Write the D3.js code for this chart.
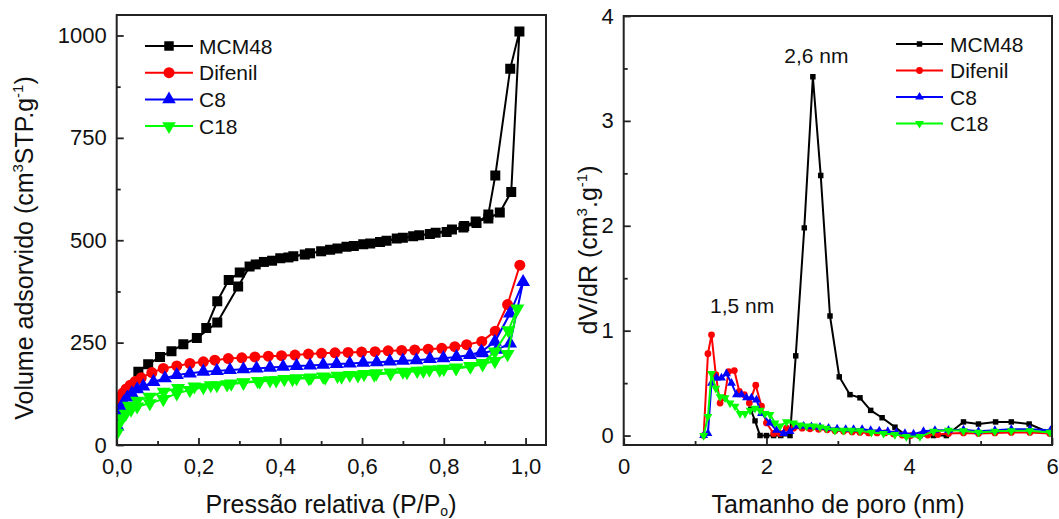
<!DOCTYPE html>
<html><head><meta charset="utf-8">
<script src="https://cdn.jsdelivr.net/npm/d3@7"></script>
<style>body{margin:0;background:#fff;} svg{display:block;font-family:"Liberation Sans",Arial,sans-serif;}</style>
</head><body><svg id="chart" width="1059" height="519"></svg>
<script>
// ---------- data ----------
const seriesNames = ["MCM48", "Difenil", "C8", "C18"];
const seriesColors = ["#000000", "#ff0000", "#0000ff", "#00ff00"];

// Isotherms: [P/P0, volume adsorbed] (adsorption then desorption)
const mcm48Iso = [[0.053,179],[0.077,197],[0.106,215],[0.134,229],[0.163,246],[0.196,261],[0.246,299],[0.297,387],[0.325,436],[0.36,447],[0.40,456],[0.432,461],[0.473,468],[0.522,477],[0.562,484],[0.603,490],[0.644,496],[0.685,504],[0.725,510],[0.766,515],[0.807,520],[0.848,531],[0.88,542],[0.909,563],[0.926,658],[0.9625,919],[0.985,1010],
  [0.965,618],[0.937,568],[0.909,553],[0.878,546],[0.85,535],[0.82,526],[0.78,518],[0.74,512],[0.70,506],[0.66,499],[0.62,492],[0.58,486],[0.54,480],[0.50,473],[0.46,465],[0.42,458],[0.38,450],[0.34,441],[0.301,421],[0.274,403],[0.246,351],[0.219,286]];
const difenilIso = [[0.001,92],[0.004,105],[0.009,117],[0.015,127],[0.023,137],[0.033,146],[0.045,155],[0.06,164],[0.086,177],[0.114,187],[0.147,193],[0.179,199],[0.212,203],[0.24,207],[0.273,211],[0.306,213],[0.338,215],[0.371,217],[0.403,218],[0.436,219.5],[0.469,222],[0.501,224],[0.534,225],[0.566,226],[0.599,227],[0.632,228],[0.664,230],[0.697,231],[0.729,232],[0.762,234],[0.795,236],[0.827,240],[0.856,245],[0.893,253],[0.926,278],[0.956,343],[0.986,439]];
const c8Iso = [[0.002,45],[0.005,70],[0.01,90],[0.017,104],[0.026,116],[0.037,126],[0.05,136],[0.065,143],[0.09,154],[0.118,163],[0.147,171],[0.179,175],[0.212,179],[0.245,181],[0.277,183],[0.31,185],[0.342,187],[0.375,189],[0.407,191],[0.44,193],[0.473,194],[0.505,196],[0.538,198],[0.57,199],[0.603,201],[0.636,202],[0.668,204],[0.70,206],[0.733,207],[0.766,210],[0.799,212],[0.831,215],[0.864,220],[0.892,228],[0.925,252],[0.962,321],[0.994,398],
  [0.962,248],[0.93,233],[0.895,224]];
const c18Iso = [[0.001,30],[0.005,50],[0.012,65],[0.022,76],[0.035,86],[0.05,94],[0.081,102],[0.114,112],[0.147,126],[0.179,134],[0.212,141],[0.245,146],[0.28,150],[0.31,153],[0.345,156],[0.375,158],[0.41,161],[0.44,163],[0.475,165],[0.505,167],[0.54,169],[0.57,171],[0.605,173],[0.635,175],[0.67,177],[0.70,179],[0.735,181],[0.765,184],[0.80,186],[0.83,189],[0.865,193],[0.895,200],[0.925,228],[0.958,280],[0.98,333],
  [0.956,222],[0.925,205],[0.895,197],[0.865,191],[0.83,187],[0.79,184],[0.75,181],[0.71,178],[0.67,175],[0.63,172],[0.59,170],[0.55,167],[0.51,165],[0.47,163],[0.43,161],[0.39,158],[0.35,155],[0.31,152],[0.27,148],[0.23,146],[0.19,143],[0.15,139],[0.115,130],[0.08,118],[0.05,108],[0.03,96]];

// Pore size distributions: [pore size nm, dV/dR]
const mcm48Pore = [[1.78,0.25],[1.84,0.14],[1.91,0.0],[2.0,0.0],[2.1,0.0],[2.2,0.0],[2.33,0.0],[2.41,0.76],[2.53,1.98],[2.65,3.42],[2.76,2.48],[2.89,1.14],[3.02,0.56],[3.17,0.39],[3.31,0.36],[3.46,0.24],[3.62,0.17],[3.80,0.08],[3.96,0.0],[4.15,0.0],[4.34,0.0],[4.52,0.0],[4.76,0.13],[4.97,0.11],[5.21,0.13],[5.43,0.13],[5.68,0.11],[5.99,0.02]];
const difenilPore = [[1.12,0.0],[1.18,0.78],[1.23,0.96],[1.29,0.58],[1.35,0.31],[1.41,0.36],[1.47,0.61],[1.55,0.62],[1.62,0.42],[1.69,0.39],[1.76,0.31],[1.85,0.48],[1.93,0.28],[2.0,0.12],[2.1,0.02],[2.19,0.02],[2.28,0.07],[2.38,0.07],[2.5,0.07],[2.61,0.065],[2.73,0.06],[2.85,0.055],[2.96,0.045],[3.08,0.04],[3.2,0.035],[3.31,0.03],[3.43,0.025],[3.55,0.025],[3.66,0.025],[3.78,0.015],[3.9,0.005],[4.02,0.0],[4.14,0.0],[4.26,0.005],[4.4,0.01],[4.55,0.02],[4.76,0.025],[4.97,0.02],[5.2,0.025],[5.43,0.03],[5.69,0.03],[5.97,0.02]];
const c8Pore = [[1.12,0.0],[1.18,0.02],[1.23,0.50],[1.30,0.55],[1.37,0.55],[1.44,0.59],[1.51,0.50],[1.58,0.39],[1.65,0.39],[1.72,0.36],[1.79,0.36],[1.86,0.34],[1.93,0.21],[2.05,0.12],[2.14,0.05],[2.24,0.02],[2.33,0.04],[2.42,0.09],[2.52,0.09],[2.63,0.085],[2.75,0.08],[2.87,0.07],[2.99,0.065],[3.11,0.06],[3.22,0.06],[3.34,0.06],[3.46,0.05],[3.58,0.045],[3.7,0.04],[3.82,0.03],[3.94,0.02],[4.06,0.015],[4.2,0.04],[4.36,0.05],[4.55,0.05],[4.76,0.055],[4.97,0.04],[5.2,0.05],[5.43,0.06],[5.69,0.06],[5.98,0.05]];
const c18Pore = [[1.12,0.0],[1.18,0.18],[1.23,0.59],[1.29,0.45],[1.35,0.37],[1.42,0.36],[1.49,0.31],[1.56,0.28],[1.63,0.21],[1.70,0.21],[1.77,0.24],[1.84,0.26],[1.91,0.24],[1.98,0.21],[2.05,0.20],[2.12,0.12],[2.19,0.09],[2.28,0.13],[2.38,0.12],[2.47,0.10],[2.56,0.09],[2.66,0.09],[2.75,0.08],[2.84,0.07],[2.96,0.05],[3.08,0.05],[3.19,0.05],[3.31,0.045],[3.47,0.03],[3.64,0.02],[3.80,0.01],[3.96,-0.01],[4.15,-0.01],[4.34,0.04],[4.55,0.05],[4.76,0.045],[4.97,0.03],[5.2,0.04],[5.43,0.045],[5.69,0.045],[5.97,0.03]];

const isoXTicks = [0, 0.2, 0.4, 0.6, 0.8, 1.0];
const isoXMinor = [0.1, 0.3, 0.5, 0.7, 0.9];
const isoYTicks = [0, 250, 500, 750, 1000];
const isoYMinor = [125, 375, 625, 875];
const poreXTicks = [0, 2, 4, 6];
const poreXMinor = [1, 3, 5];
const poreYTicks = [0, 1, 2, 3, 4];
const poreYMinor = [0.5, 1.5, 2.5, 3.5];

const isoSeries = [mcm48Iso, difenilIso, c8Iso, c18Iso];
const poreSeries = [mcm48Pore, difenilPore, c8Pore, c18Pore];

// ---------- drawing ----------
const svg = d3.select("#chart");
const symbolTypes = [d3.symbolSquare, d3.symbolCircle, d3.symbolTriangle, d3.symbolTriangle];
const symbolRot = [0, 0, 0, 180];

function comma(fmt) { return d => d3.format(fmt)(d).replace(".", ","); }

function panel(opts) {
  const x = d3.scaleLinear().domain(opts.xDomain).range(opts.xRange);
  const y = d3.scaleLinear().domain(opts.yDomain).range(opts.yRange);
  const g = svg.append("g");
  const clipId = "clip" + opts.id;
  svg.append("clipPath").attr("id", clipId).append("rect")
    .attr("x", opts.xRange[0]).attr("y", opts.yRange[1])
    .attr("width", opts.xRange[1] - opts.xRange[0]).attr("height", opts.yRange[0] - opts.yRange[1]);

  // axes
  const xa = g.append("g").attr("transform", `translate(0,${opts.yRange[0]})`)
    .call(d3.axisBottom(x).tickValues(opts.xTicks).tickSize(-7).tickPadding(13).tickFormat(opts.xFmt));
  const xm = g.append("g").attr("transform", `translate(0,${opts.yRange[0]})`)
    .call(d3.axisBottom(x).tickValues(opts.xMinor).tickSize(-4).tickFormat(""));
  const ya = g.append("g").attr("transform", `translate(${opts.xRange[0]},0)`)
    .call(d3.axisLeft(y).tickValues(opts.yTicks).tickSize(-7).tickPadding(10).tickFormat(opts.yFmt));
  const ym = g.append("g").attr("transform", `translate(${opts.xRange[0]},0)`)
    .call(d3.axisLeft(y).tickValues(opts.yMinor).tickSize(-4).tickFormat(""));
  [xa, xm, ya, ym].forEach(a => {
    a.select(".domain").remove();
    a.attr("font-size", null).attr("font-family", null);
    a.selectAll("line").attr("stroke", "#222").attr("stroke-width", 1.8);
    a.selectAll("text").attr("font-size", 22).attr("fill", "#111");
  });

  // series
  const plot = g.append("g").attr("clip-path", `url(#${clipId})`);
  opts.series.forEach((data, i) => {
    const line = d3.line().x(d => x(d[0])).y(d => y(d[1]));
    plot.append("path").datum(data).attr("d", line)
      .attr("fill", "none").attr("stroke", seriesColors[i]).attr("stroke-width", 2).attr("stroke-linejoin", "round");
    const sym = d3.symbol().type(symbolTypes[i]).size(opts.symSizes[i]);
    plot.selectAll(null).data(data).enter().append("path")
      .attr("d", sym)
      .attr("transform", d => `translate(${x(d[0])},${y(d[1])}) rotate(${symbolRot[i]})`)
      .attr("fill", seriesColors[i]);
  });

  // frame
  g.append("rect").attr("x", opts.xRange[0]).attr("y", opts.yRange[1])
    .attr("width", opts.xRange[1] - opts.xRange[0]).attr("height", opts.yRange[0] - opts.yRange[1])
    .attr("fill", "none").attr("stroke", "#222").attr("stroke-width", 2);

  // legend
  const lg = g.append("g");
  seriesNames.forEach((name, i) => {
    const yy = opts.legend.y + i * opts.legend.dy;
    lg.append("line").attr("x1", opts.legend.x1).attr("x2", opts.legend.x2).attr("y1", yy).attr("y2", yy)
      .attr("stroke", seriesColors[i]).attr("stroke-width", 2);
    lg.append("path").attr("d", d3.symbol().type(symbolTypes[i]).size(opts.legSym[i]))
      .attr("transform", `translate(${(opts.legend.x1 + opts.legend.x2) / 2},${yy}) rotate(${symbolRot[i]})`)
      .attr("fill", seriesColors[i]);
    lg.append("text").attr("x", opts.legend.tx).attr("y", yy).attr("dy", "0.36em")
      .attr("font-size", 21).attr("fill", "#111").text(name);
  });
  return { x, y, g };
}

const left = panel({
  id: "L", xDomain: [0, 1.05], xRange: [116.7, 546], yDomain: [0, 1050], yRange: [445, 15],
  xTicks: isoXTicks, xMinor: isoXMinor, yTicks: isoYTicks, yMinor: isoYMinor,
  xFmt: comma(".1f"), yFmt: d3.format("d"),
  series: isoSeries, symSizes: [100, 95, 85, 85], legSym: [90, 95, 80, 80],
  legend: { x1: 145, x2: 193, tx: 199, y: 46, dy: 26.7 }
});
const right = panel({
  id: "R", xDomain: [0, 6], xRange: [623.7, 1052], yDomain: [-0.09, 4], yRange: [445, 16],
  xTicks: poreXTicks, xMinor: poreXMinor, yTicks: poreYTicks, yMinor: poreYMinor,
  xFmt: d3.format("d"), yFmt: d3.format("d"),
  series: poreSeries, symSizes: [30, 36, 34, 34], legSym: [30, 36, 34, 34],
  legend: { x1: 896, x2: 943, tx: 950, y: 44, dy: 26.5 }
});

// axis titles
svg.append("text").attr("x", 331).attr("y", 513).attr("text-anchor", "middle").attr("font-size", 25).attr("fill", "#111")
  .html('Pressão relativa (P/P<tspan font-size="14" dy="3">o</tspan><tspan dy="-3">)</tspan>');
svg.append("text").attr("transform", "translate(33,248) rotate(-90)").attr("text-anchor", "middle").attr("font-size", 25).attr("fill", "#111")
  .html('Volume adsorvido (cm<tspan font-size="15" dy="-10">3</tspan><tspan dy="10">STP.g</tspan><tspan font-size="15" dy="-10">-1</tspan><tspan dy="10">)</tspan>');
svg.append("text").attr("x", 838).attr("y", 513).attr("text-anchor", "middle").attr("font-size", 25).attr("fill", "#111")
  .text("Tamanho de poro (nm)");
svg.append("text").attr("transform", "translate(597,250) rotate(-90)").attr("text-anchor", "middle").attr("font-size", 25).attr("fill", "#111")
  .html('dV/dR (cm<tspan font-size="15" dy="-10">3</tspan><tspan dy="10">.g</tspan><tspan font-size="15" dy="-10">-1</tspan><tspan dy="10">)</tspan>');

// peak annotations
svg.append("text").attr("x", right.x(2.7)).attr("y", 63).attr("text-anchor", "middle").attr("font-size", 21).attr("fill", "#111").text("2,6 nm");
svg.append("text").attr("x", right.x(1.66)).attr("y", 313).attr("text-anchor", "middle").attr("font-size", 21).attr("fill", "#111").text("1,5 nm");
</script></body></html>
